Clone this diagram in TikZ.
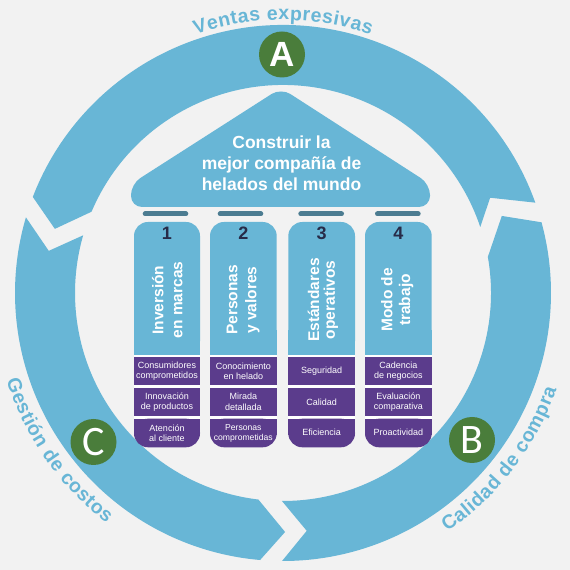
\documentclass[tikz,border=0pt]{standalone}
\usepackage{fontspec}
\setmainfont{Liberation Sans}
\newfontfamily\carlitofont{Carlito}
\usetikzlibrary{decorations.text}
\definecolor{ringblue}{HTML}{68B6D6}
\definecolor{cellpurple}{HTML}{5B3C8C}
\definecolor{badgegreen}{HTML}{4A7D3B}
\definecolor{barcol}{HTML}{4C7C91}
\definecolor{numcol}{HTML}{272B48}
\definecolor{bgcol}{HTML}{F2F2F2}
\newcommand\ringfont{\fontsize{19.5}{21}\selectfont\bfseries\color{ringblue}\kern0.5pt}
\tikzset{
  ringpiece/.style={fill=ringblue},
  badge/.style={circle, fill=badgegreen, minimum size=46pt, inner sep=0pt, text=white},
  numstyle/.style={font=\fontsize{18}{18}\selectfont\bfseries, text=numcol, inner sep=0pt},
  coltext/.style={rotate=90, anchor=base, font=\fontsize{15.5}{18}\selectfont\bfseries, text=white, inner sep=0pt},
  celltext/.style={font=\fontsize{9}{10.5}\selectfont, text=white, align=center, inner sep=0pt},
  rooftext/.style={font=\fontsize{17.5}{21}\selectfont\bfseries, text=white, align=center, inner sep=0pt},
  lintel/.style={draw=barcol, line width=5pt, line cap=round},
}
\begin{document}
\begin{tikzpicture}[x=1pt,y=1pt]
\fill[bgcol] (0,0) rectangle (570,570);
\useasboundingbox (0,0) rectangle (570,570);

% ring pieces
\begin{scope}[shift={(283,277)}]
  % A (top)
  \fill[ringpiece] (19.7:268) arc[start angle=19.7, end angle=159, radius=268]
     -- (164.3:237) -- (157:208) arc[start angle=157, end angle=18.5, radius=208]
     -- (24.7:228) -- cycle;
  % B (right/bottom)
  \fill[ringpiece] (-90.2:268) arc[start angle=-90.2, end angle=15.3, radius=268]
     -- (19.4:232) -- (10:208) arc[start angle=10, end angle=-90.3, radius=208]
     -- (-84.3:239) -- cycle;
  % C (left/bottom)
  \fill[ringpiece] (163.6:268) arc[start angle=163.6, end angle=265.1, radius=268]
     -- (270.5:239) -- (263.2:208) arc[start angle=263.2, end angle=163.9, radius=208]
     -- (169.8:238) -- cycle;
  % curved labels
  \path[decorate, decoration={text along path, text align=center,
     text={|\ringfont|Ventas expresivas}}]
     (140:273) arc[start angle=140, end angle=40, radius=273];
  \path[decorate, decoration={text along path, text align=center,
     text={|\ringfont|Calidad de compra}}]
     (-77.5:290) arc[start angle=-77.5, end angle=2.5, radius=290];
  \path[decorate, decoration={text along path, text align=center,
     text={|\ringfont|Gestión de costos}}]
     (175:290) arc[start angle=175, end angle=255, radius=290];
\end{scope}

% badges
\node[badge, font=\fontsize{35}{35}\selectfont\bfseries] (badgeA) at (282,515.5) {A};
\node[badge, font=\carlitofont\fontsize{42}{42}\selectfont] (badgeB) at (472,130) {B};
\node[badge, font=\carlitofont\fontsize{42}{42}\selectfont] (badgeC) at (93.5,128) {C};

% roof
\fill[ringblue, rounded corners=11pt] (281,363) -- (131,363) -- (131,386) -- (281,482)
   -- (430,386) -- (430,363) -- cycle;
\node[rooftext] (roof) at (281.5,406.4) {Construir la\\mejor compañía de\\helados del mundo};

% lintel bars
\draw[lintel] (145.2,356) -- (185.8,356);
\draw[lintel] (220.2,356) -- (260.8,356);
\draw[lintel] (300.8,356) -- (341.5,356);
\draw[lintel] (377.5,356) -- (418.2,356);

% columns
\foreach \xa/\xb in {134/200, 210/276.7, 288.3/355, 365/431.7}{
  \fill[white] (\xa,140) rectangle (\xb,215);
  \fill[ringblue, rounded corners=14pt] (\xa,215) rectangle (\xb,348);
  \fill[ringblue] (\xa,215) rectangle (\xb,240);
  \fill[cellpurple] (\xa,185) rectangle (\xb,212.7);
  \fill[cellpurple] (\xa,154.3) rectangle (\xb,181.7);
  \fill[cellpurple, rounded corners=14pt] (\xa,122.7) rectangle (\xb,151.3);
  \fill[cellpurple] (\xa,135) rectangle (\xb,151.3);
}

% numbers
\node[numstyle] (n1) at (167,337) {1};
\node[numstyle] (n2) at (243.3,337) {2};
\node[numstyle] (n3) at (321.7,337) {3};
\node[numstyle] (n4) at (398.3,337) {4};

% column titles
\node[coltext] (t1a) at (163.3,270) {Inversión};
\node[coltext] (t1b) at (182.3,270) {en marcas};
\node[coltext] (t2a) at (237.3,270) {Personas};
\node[coltext] (t2b) at (256.3,270) {y valores};
\node[coltext] (t3a) at (319,270) {Estándares};
\node[coltext] (t3b) at (334.8,270) {operativos};
\node[coltext] (t4a) at (392.3,270) {Modo de};
\node[coltext] (t4b) at (410,270) {trabajo};

% cell texts
\node[celltext] (c1a) at (167,198.8) {Consumidores\\comprometidos};
\node[celltext] (c1b) at (167,168) {Innovación\\de productos};
\node[celltext] (c1c) at (167,136.8) {Atención\\al cliente};
\node[celltext] (c2a) at (243.3,198.8) {Conocimiento\\en helado};
\node[celltext] (c2b) at (243.3,168) {Mirada\\detallada};
\node[celltext, font=\fontsize{8.6}{10.5}\selectfont] (c2c) at (243.3,136.8) {Personas\\comprometidas};
\node[celltext] (c3a) at (321.7,198.8) {Seguridad};
\node[celltext] (c3b) at (321.7,168) {Calidad};
\node[celltext] (c3c) at (321.7,138) {Eficiencia};
\node[celltext] (c4a) at (398.3,198.8) {Cadencia\\de negocios};
\node[celltext] (c4b) at (398.3,168) {Evaluación\\comparativa};
\node[celltext] (c4c) at (398.3,138) {Proactividad};
\end{tikzpicture}
\end{document}
